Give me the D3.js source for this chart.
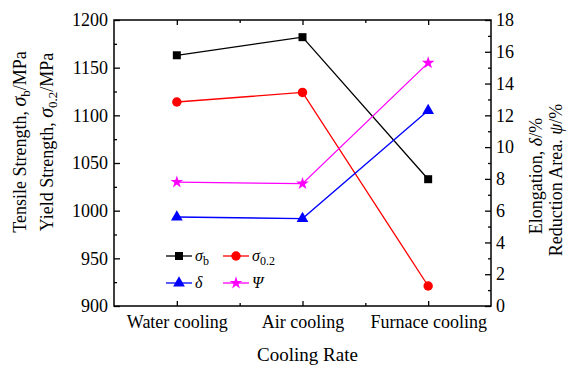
<!DOCTYPE html>
<html><head><meta charset="utf-8">
<script src="https://cdn.jsdelivr.net/npm/d3@7"></script>
<style>body{margin:0;background:#fff}svg{display:block}text{font-family:"Liberation Serif","Times New Roman",serif;fill:#000}</style>
</head><body><svg id="c" width="568" height="365" font-family="Liberation Serif"></svg>
<script>
const categories = ["Water cooling","Air cooling","Furnace cooling"];
const sigmaB = [1163, 1182, 1033];
const sigma02 = [1114, 1124, 921];
const delta = [5.6, 5.5, 12.3];
const psi = [7.8, 7.7, 15.3];
const leftTicks = [900,950,1000,1050,1100,1150,1200];
const rightTicks = [0,2,4,6,8,10,12,14,16,18];

const svg = d3.select("#c");
const L=114,R=491,T=20,B=306;
const x = d3.scalePoint().domain(categories).range([L,R]).padding(0.5);
const xl = d3.scaleLinear().domain([0.5,3.5]).range([L,R]);
const yL = d3.scaleLinear().domain([900,1200]).range([B,T]);
const yR = d3.scaleLinear().domain([0,18]).range([B,T]);

function styleAxis(g){
  g.attr("font-family","Liberation Serif").attr("font-size",18);
  g.select(".domain").remove();
  g.selectAll("line").attr("stroke","#000").attr("stroke-width",1.3);
  g.selectAll("text").style("font-size","18px").style("font-family","'Liberation Serif', serif");
}
const fmt = d3.format("d");

svg.append("g").attr("transform",`translate(${L},0)`).call(d3.axisLeft(yL).tickValues(leftTicks).tickFormat(fmt).tickSize(-6).tickPadding(6)).call(styleAxis);
svg.append("g").attr("transform",`translate(${L},0)`).call(d3.axisLeft(yL).tickValues(d3.range(925,1200,50)).tickSize(-3).tickFormat("")).call(styleAxis);
svg.append("g").attr("transform",`translate(${R},0)`).call(d3.axisRight(yR).tickValues(rightTicks).tickFormat(fmt).tickSize(-6).tickPadding(5)).call(styleAxis);
svg.append("g").attr("transform",`translate(${R},0)`).call(d3.axisRight(yR).tickValues(d3.range(1,18,2)).tickSize(-3).tickFormat("")).call(styleAxis);
svg.append("g").attr("transform",`translate(0,${B})`).call(d3.axisBottom(x).tickSize(-5).tickPadding(9)).call(styleAxis);
svg.append("g").attr("transform",`translate(0,${B})`).call(d3.axisBottom(xl).tickValues([1.5,2.5]).tickSize(-3).tickFormat("")).call(styleAxis);
svg.append("g").attr("transform",`translate(0,${T})`).call(d3.axisTop(x).tickSize(-5).tickFormat("")).call(styleAxis);
svg.append("g").attr("transform",`translate(0,${T})`).call(d3.axisTop(xl).tickValues([1.5,2.5]).tickSize(-3).tickFormat("")).call(styleAxis);

svg.append("rect").attr("x",L).attr("y",T).attr("width",R-L).attr("height",B-T).attr("fill","none").attr("stroke","#000").attr("stroke-width",1.5);

const series = [
  {v:sigmaB, y:yL, c:"#000000", sym:d3.symbolSquare, size:64},
  {v:sigma02, y:yL, c:"#ff0000", sym:d3.symbolCircle, size:70},
  {v:delta, y:yR, c:"#0000ff", sym:d3.symbolTriangle, size:60},
  {v:psi, y:yR, c:"#ff00ff", sym:d3.symbolStar, size:50}
];
series.forEach(s=>{
  const line = d3.line().x((d,i)=>x(categories[i])).y(d=>s.y(d));
  svg.append("path").attr("d",line(s.v)).attr("fill","none").attr("stroke",s.c).attr("stroke-width",1.3);
  svg.selectAll(null).data(s.v).enter().append("path")
    .attr("d",d3.symbol(s.sym,s.size)).attr("fill",s.c)
    .attr("transform",(d,i)=>`translate(${x(categories[i])},${s.y(d)})`);
});

const leg = [
  {x:166,y:256,s:0,lab:[["σ",""],["b","sub"]]},
  {x:223,y:256,s:1,lab:[["σ",""],["0.2","sub"]]},
  {x:166,y:283,s:2,lab:[["δ",""]]},
  {x:223,y:283,s:3,lab:[["Ψ",""]]}
];
leg.forEach(l=>{
  const s=series[l.s];
  svg.append("line").attr("x1",l.x).attr("x2",l.x+26).attr("y1",l.y).attr("y2",l.y).attr("stroke",s.c).attr("stroke-width",1.3);
  svg.append("path").attr("d",d3.symbol(s.sym,s.size)).attr("fill",s.c).attr("transform",`translate(${l.x+13},${l.y})`);
  const t=svg.append("text").attr("x",l.x+29).attr("y",l.y+5).style("font-size","16px");
  l.lab.forEach(p=>{
    if(p[1]==="sub") t.append("tspan").text(p[0]).attr("dy",4).style("font-size","12px").style("font-style","normal");
    else t.append("tspan").text(p[0]).style("font-style","italic");
  });
});

svg.append("text").attr("x",(L+R)/2+5).attr("y",361).attr("text-anchor","middle").style("font-size","19px").text("Cooling Rate");

function vlabel(cx,cy,parts){
  const t=svg.append("text").attr("transform",`translate(${cx},${cy}) rotate(-90)`).attr("text-anchor","middle").style("font-size","18px");
  parts.forEach(p=>{
    const ts=t.append("tspan").text(p[0]);
    if(p[1]==="i") ts.style("font-style","italic");
    if(p[1]==="ii") ts.style("font-style","italic").style("font-size","20px");
    if(p[1]==="sub") ts.attr("dy",4).style("font-size","13px");
    if(p[1]==="up") ts.attr("dy",-4);
  });
}
vlabel(26,142,[["Tensile Strength, ",""],["σ","ii"],["b","sub"],["/MPa","up"]]);
vlabel(53,142,[["Yield Strength, ",""],["σ","ii"],["0.2","sub"],["/MPa","up"]]);
vlabel(542,176,[["Elongation, ",""],["δ","i"],["/%",""]]);
vlabel(562,180,[["Reduction Area.  ",""],["ψ","i"],["/%",""]]);
</script></body></html>
